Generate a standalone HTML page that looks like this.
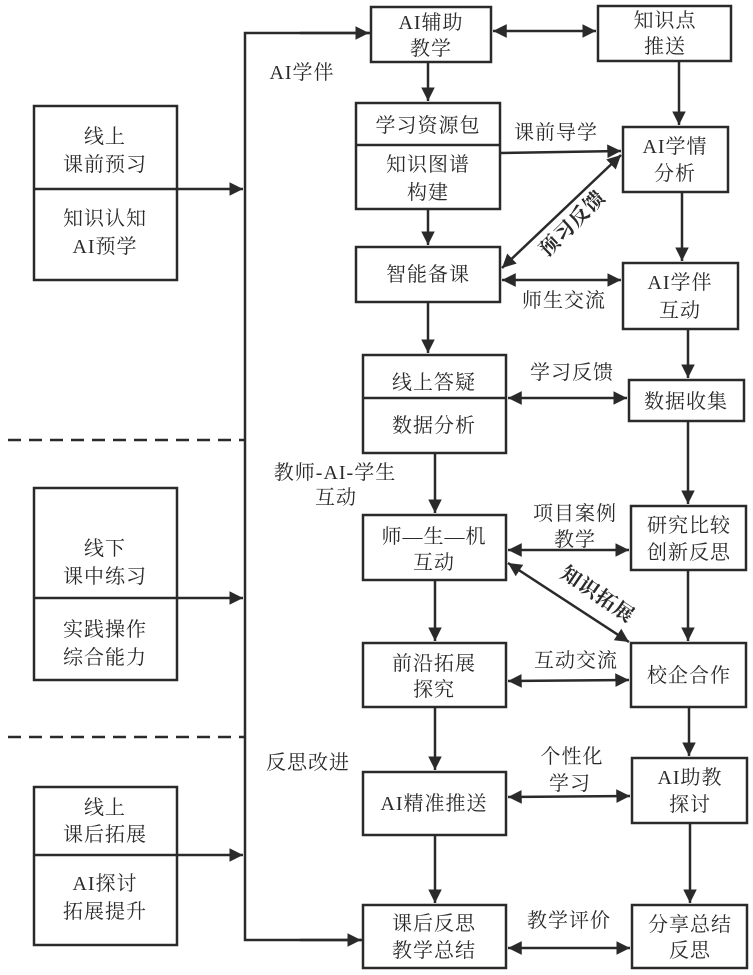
<!DOCTYPE html>
<html><head><meta charset="utf-8"><style>
html,body{margin:0;padding:0;background:#fff;}
svg{display:block;}
text{font-family:"Liberation Serif","Noto Serif CJK SC","Noto Sans CJK SC",serif;font-size:20px;letter-spacing:1px;fill:#2a2a2a;text-anchor:middle;}
.b{fill:#fff;stroke:#2a2a2a;stroke-width:2.5;}
.l{stroke:#2a2a2a;stroke-width:2.5;fill:none;}
.bold{font-weight:bold;}
</style></head><body>
<svg width="753" height="975" viewBox="0 0 753 975" xmlns="http://www.w3.org/2000/svg">
<defs>
<marker id="a" viewBox="0 0 10 10" refX="10" refY="5" markerWidth="5.5" markerHeight="5.5" orient="auto-start-reverse" markerUnits="strokeWidth"><path d="M0,0 L10,5 L0,10 z" fill="#2a2a2a"/></marker>
</defs>
<line x1="8" y1="440" x2="245" y2="440" stroke="#2a2a2a" stroke-width="2.5" stroke-dasharray="13,8"/>
<line x1="8" y1="737" x2="245" y2="737" stroke="#2a2a2a" stroke-width="2.5" stroke-dasharray="13,8"/>
<rect class="b" x="34" y="106" width="143" height="174"/><line class="l" x1="34" y1="189" x2="177" y2="189"/>
<text x="105" y="143">线上</text><text x="105" y="171">课前预习</text>
<text x="105" y="225">知识认知</text><text x="105" y="253">AI预学</text>
<rect class="b" x="34" y="488" width="143" height="192"/><line class="l" x1="34" y1="598" x2="177" y2="598"/>
<text x="105" y="555">线下</text><text x="105" y="583">课中练习</text>
<text x="105" y="636">实践操作</text><text x="105" y="664">综合能力</text>
<rect class="b" x="34" y="787" width="143" height="158"/><line class="l" x1="34" y1="855" x2="177" y2="855"/>
<text x="105" y="814">线上</text><text x="105" y="841">课后拓展</text>
<text x="105" y="890">AI探讨</text><text x="105" y="918">拓展提升</text>
<line class="l" x1="177" y1="189" x2="243" y2="189" marker-end="url(#a)"/>
<line class="l" x1="177" y1="598" x2="243" y2="598" marker-end="url(#a)"/>
<line class="l" x1="177" y1="855" x2="243" y2="855" marker-end="url(#a)"/>
<polyline class="l" points="371,33 245,33 245,940 363,940" />
<line class="l" x1="300" y1="33" x2="369" y2="33" marker-end="url(#a)"/>
<line class="l" x1="300" y1="940" x2="361" y2="940" marker-end="url(#a)"/>
<text x="302" y="79">AI学伴</text>
<text x="335" y="479">教师-AI-学生</text><text x="336" y="504">互动</text>
<text x="308" y="769">反思改进</text>
<rect class="b" x="371" y="7" width="120" height="55"/><text x="431" y="29">AI辅助</text><text x="431" y="55">教学</text>
<rect class="b" x="356" y="103" width="144" height="106"/><line class="l" x1="356" y1="145" x2="500" y2="145"/>
<text x="428" y="132">学习资源包</text><text x="428" y="171">知识图谱</text><text x="428" y="199">构建</text>
<rect class="b" x="356" y="247" width="144" height="55"/><text x="428" y="281">智能备课</text>
<rect class="b" x="363" y="355" width="143" height="98"/><line class="l" x1="363" y1="398" x2="506" y2="398"/>
<text x="434" y="389">线上答疑</text><text x="434" y="432">数据分析</text>
<rect class="b" x="363" y="515" width="143" height="65"/><text x="434" y="543">师—生—机</text><text x="434" y="569">互动</text>
<rect class="b" x="363" y="643" width="143" height="64"/><text x="434" y="670">前沿拓展</text><text x="434" y="696">探究</text>
<rect class="b" x="363" y="772" width="143" height="63"/><text x="434" y="810">AI精准推送</text>
<rect class="b" x="363" y="905" width="143" height="63"/><text x="434" y="930">课后反思</text><text x="434" y="957">教学总结</text>
<rect class="b" x="598" y="6" width="133" height="55"/><text x="665" y="27">知识点</text><text x="665" y="53">推送</text>
<rect class="b" x="623" y="127" width="105" height="65"/><text x="675" y="153">AI学情</text><text x="675" y="180">分析</text>
<rect class="b" x="623" y="263" width="115" height="66"/><text x="680" y="289">AI学伴</text><text x="680" y="317">互动</text>
<rect class="b" x="629" y="380" width="115" height="41"/><text x="686" y="408">数据收集</text>
<rect class="b" x="631" y="506" width="115" height="64"/><text x="689" y="532">研究比较</text><text x="689" y="559">创新反思</text>
<rect class="b" x="631" y="643" width="115" height="64"/><text x="689" y="682">校企合作</text>
<rect class="b" x="632" y="758" width="115" height="65"/><text x="690" y="784">AI助教</text><text x="690" y="811">探讨</text>
<rect class="b" x="632" y="905" width="115" height="63"/><text x="690" y="931">分享总结</text><text x="690" y="957">反思</text>
<line class="l" x1="428" y1="62" x2="428" y2="101" marker-end="url(#a)"/>
<line class="l" x1="679" y1="61" x2="679" y2="125" marker-end="url(#a)"/>
<line class="l" x1="428" y1="209" x2="428" y2="245" marker-end="url(#a)"/>
<line class="l" x1="682" y1="192" x2="682" y2="261" marker-end="url(#a)"/>
<line class="l" x1="428" y1="302" x2="428" y2="353" marker-end="url(#a)"/>
<line class="l" x1="688" y1="329" x2="688" y2="378" marker-end="url(#a)"/>
<line class="l" x1="435" y1="453" x2="435" y2="513" marker-end="url(#a)"/>
<line class="l" x1="688" y1="421" x2="688" y2="504" marker-end="url(#a)"/>
<line class="l" x1="435" y1="580" x2="435" y2="641" marker-end="url(#a)"/>
<line class="l" x1="688" y1="570" x2="688" y2="641" marker-end="url(#a)"/>
<line class="l" x1="435" y1="707" x2="435" y2="770" marker-end="url(#a)"/>
<line class="l" x1="689" y1="707" x2="689" y2="756" marker-end="url(#a)"/>
<line class="l" x1="435" y1="835" x2="435" y2="903" marker-end="url(#a)"/>
<line class="l" x1="690" y1="823" x2="690" y2="903" marker-end="url(#a)"/>
<line class="l" x1="493" y1="31" x2="596" y2="31" marker-start="url(#a)" marker-end="url(#a)"/>
<line class="l" x1="500" y1="153" x2="621" y2="151" marker-end="url(#a)"/>
<text x="556" y="139">课前导学</text>
<line class="l" x1="621" y1="155" x2="502" y2="268" marker-start="url(#a)" marker-end="url(#a)"/>
<text class="bold" x="0" y="0" transform="translate(577,228) rotate(-45)">预习反馈</text>
<line class="l" x1="502" y1="280" x2="621" y2="280" marker-start="url(#a)" marker-end="url(#a)"/>
<text x="564" y="307">师生交流</text>
<line class="l" x1="508" y1="398" x2="627" y2="398" marker-start="url(#a)" marker-end="url(#a)"/>
<text x="572" y="379">学习反馈</text>
<line class="l" x1="508" y1="550" x2="629" y2="550" marker-start="url(#a)" marker-end="url(#a)"/>
<text x="575" y="520">项目案例</text><text x="575" y="546">教学</text>
<line class="l" x1="508" y1="563" x2="629" y2="642" marker-start="url(#a)" marker-end="url(#a)"/>
<text class="bold" x="0" y="0" transform="translate(594,600) rotate(34)">知识拓展</text>
<line class="l" x1="508" y1="681" x2="629" y2="680" marker-start="url(#a)" marker-end="url(#a)"/>
<text x="576" y="667">互动交流</text>
<line class="l" x1="508" y1="797" x2="630" y2="796" marker-start="url(#a)" marker-end="url(#a)"/>
<text x="572" y="763">个性化</text><text x="570" y="790">学习</text>
<line class="l" x1="508" y1="948" x2="630" y2="948" marker-start="url(#a)" marker-end="url(#a)"/>
<text x="569" y="927">教学评价</text>
</svg>
</body></html>
